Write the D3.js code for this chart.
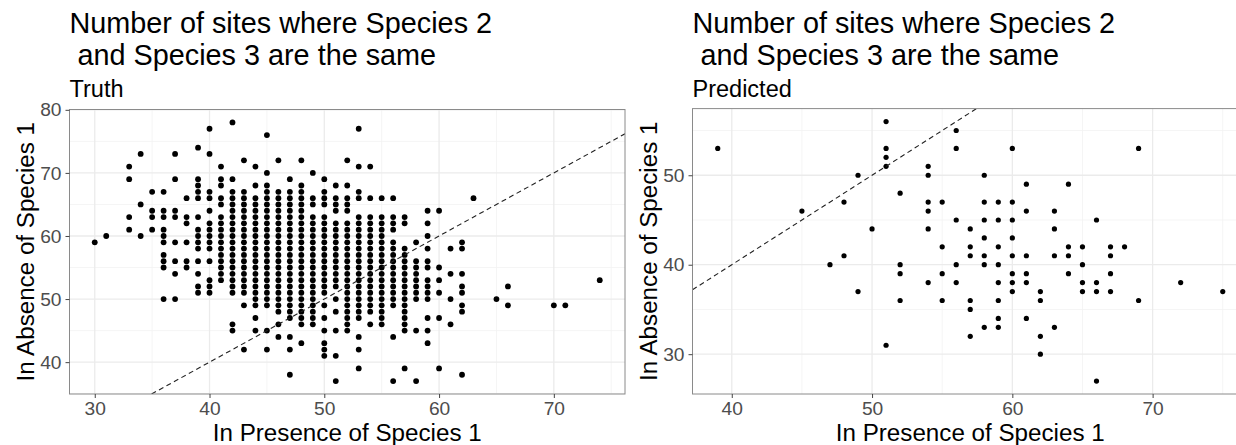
<!DOCTYPE html>
<html>
<head>
<meta charset="utf-8">
<script src="https://cdn.jsdelivr.net/npm/d3@7"></script>
<style>
  html, body { margin: 0; padding: 0; background: #fff; }
  svg { display: block; font-family: "Liberation Sans", Arial, Helvetica, sans-serif; }
  text.pre { white-space: pre; }
</style>
</head>
<body>
<svg id="chart" width="1236" height="445"></svg>
<script>
// Truth: for each x (in presence of species 1), the y values (in absence) observed
const truthX = [30, 31, 33, 34, 35, 36, 37, 38, 39, 40, 41, 42, 43, 44, 45, 46, 47, 48, 49, 50,
                51, 52, 53, 54, 55, 56, 57, 58, 59, 60, 61, 62, 63, 65, 66, 70, 71, 74];
const truthY = [
  [59],
  [60],
  [71, 69, 63, 61],
  [73, 65, 60],
  [67, 64, 63, 61],
  [67, 64, 63, 61, 60, 59, 57, 56, 55, 50],
  [73, 69, 64, 63, 59, 56, 54, 50],
  [66, 63, 62, 59, 56, 55],
  [74, 69, 68, 67, 66, 63, 61, 60, 59, 58, 56, 54, 52, 51],
  [77, 73, 67, 66, 64, 62, 61, 60, 59, 58, 56, 53, 52, 51],
  [71, 69, 68, 66, 65, 63, 62, 61, 60, 59, 58, 57, 56, 55, 54, 53],
  [78, 69, 67, 66, 65, 64, 63, 62, 61, 60, 59, 58, 57, 56, 55, 54, 53, 52, 51, 46, 45],
  [72, 67, 66, 65, 64, 63, 62, 61, 60, 59, 58, 57, 56, 55, 54, 53, 52, 51, 49, 42],
  [71, 68, 66, 65, 64, 63, 62, 61, 60, 59, 58, 57, 56, 55, 54, 53, 52, 51, 50, 49, 47, 45],
  [76, 70, 68, 67, 66, 65, 64, 63, 62, 61, 60, 59, 58, 57, 56, 55, 54, 53, 52, 51, 50, 49, 45, 42],
  [72, 67, 66, 65, 64, 63, 62, 61, 60, 59, 58, 57, 56, 55, 54, 53, 52, 51, 50, 49, 48, 46, 44],
  [69, 67, 66, 65, 64, 63, 62, 61, 60, 59, 58, 57, 56, 55, 54, 53, 52, 51, 50, 49, 48, 47, 44, 42, 38],
  [72, 68, 67, 66, 65, 64, 63, 62, 61, 60, 59, 58, 57, 56, 55, 54, 53, 52, 51, 50, 49, 48, 47, 46, 43],
  [70, 66, 65, 63, 62, 61, 60, 59, 58, 57, 56, 55, 54, 53, 52, 51, 50, 49, 48, 47, 46],
  [69, 67, 66, 65, 63, 62, 61, 60, 59, 58, 57, 56, 55, 54, 53, 52, 51, 49, 47, 45, 43, 42, 41],
  [68, 66, 65, 64, 62, 61, 60, 59, 58, 57, 56, 55, 54, 53, 52, 50, 48, 45, 41, 37],
  [72, 68, 66, 65, 64, 62, 61, 60, 59, 58, 57, 56, 55, 54, 53, 52, 51, 50, 49, 48, 47, 46, 45],
  [77, 71, 67, 66, 63, 62, 61, 60, 59, 58, 57, 56, 55, 54, 53, 52, 51, 50, 49, 48, 47, 44, 42, 39],
  [71, 66, 63, 62, 61, 60, 59, 58, 57, 56, 55, 54, 53, 52, 51, 50, 49, 48, 46],
  [66, 63, 62, 61, 60, 59, 58, 57, 56, 55, 54, 53, 52, 51, 50, 49, 48, 47, 46],
  [66, 63, 62, 61, 59, 58, 57, 56, 55, 54, 53, 52, 51, 50, 49, 44, 37],
  [63, 62, 58, 57, 56, 55, 54, 53, 52, 51, 50, 49, 48, 47, 46, 45, 39],
  [59, 56, 55, 54, 53, 52, 51, 50, 45, 37],
  [64, 62, 60, 58, 56, 55, 53, 52, 51, 50, 47, 45, 43],
  [64, 55, 53, 51, 47, 39],
  [58, 54, 50, 46],
  [59, 58, 54, 52, 51, 49, 48, 38],
  [66],
  [50],
  [52, 49],
  [49],
  [49],
  [53]
];

// Predicted: one point per site pair
const predX = [39, 45, 47, 48, 48, 49, 49, 50, 51, 51, 51, 51, 51, 52, 52, 52, 52,
               54, 54, 54, 54, 54, 54, 55, 55, 55, 55, 56, 56, 56, 56, 56,
               57, 57, 57, 57, 57, 57, 58, 58, 58, 58, 58, 58, 58,
               59, 59, 59, 59, 59, 59, 59, 59, 60, 60, 60, 60, 60, 60, 60, 60,
               61, 61, 61, 61, 61, 61, 62, 62, 62, 62, 63, 63, 63, 63,
               64, 64, 64, 64, 65, 65, 65, 65, 66, 66, 66, 66, 67, 67, 67, 67,
               68, 69, 69, 72, 75];
const predY = [53, 46, 40, 47, 41, 50, 37, 44, 56, 53, 52, 51, 31, 48, 40, 39, 36,
               51, 50, 47, 46, 44, 38, 47, 42, 39, 36, 55, 53, 45, 40, 38,
               44, 42, 41, 36, 35, 32, 50, 47, 45, 43, 41, 40, 33,
               47, 45, 42, 40, 38, 36, 34, 33, 53, 47, 45, 43, 41, 39, 38, 37,
               49, 46, 41, 39, 38, 34, 37, 36, 32, 30, 46, 44, 41, 33,
               49, 42, 41, 39, 42, 40, 38, 37, 45, 38, 37, 27, 42, 41, 39, 37,
               42, 53, 36, 38, 37];

const truthXTicks = [30, 40, 50, 60, 70];
const truthYTicks = [40, 50, 60, 70, 80];
const predXTicks = [40, 50, 60, 70];
const predYTicks = [30, 40, 50];

const titleLines = ["Number of sites where Species 2", " and Species 3 are the same"];
const xLabel = "In Presence of Species 1";
const yLabel = "In Absence of Species 1";

const truthPoints = truthX.flatMap((x, i) => truthY[i].map(y => ({ x, y })));
const predPoints = predX.map((x, i) => ({ x, y: predY[i] }));

const svg = d3.select("#chart");

function panel(cfg) {
  const { left, right, top, bottom, xDomain, yDomain, xTicks, yTicks, points, subtitle, r, id } = cfg;
  const x = d3.scaleLinear().domain(xDomain).range([left, right]);
  const y = d3.scaleLinear().domain(yDomain).range([bottom, top]);
  const g = svg.append("g");

  g.append("clipPath").attr("id", id)
    .append("rect").attr("x", left).attr("y", top)
    .attr("width", right - left).attr("height", bottom - top);

  const grid = g.append("g").attr("clip-path", `url(#${id})`);
  // minor grid lines halfway between major ticks
  const minorX = d3.range(xTicks[0] - 5, xDomain[1] + 5, 10).filter(v => v > xDomain[0] && v < xDomain[1]);
  const minorY = d3.range(yTicks[0] - 5, yDomain[1] + 5, 10).filter(v => v > yDomain[0] && v < yDomain[1]);
  grid.selectAll(".mx").data(minorX).join("line")
    .attr("x1", d => x(d)).attr("x2", d => x(d)).attr("y1", top).attr("y2", bottom)
    .attr("stroke", "#f2f2f2").attr("stroke-width", 0.8);
  grid.selectAll(".my").data(minorY).join("line")
    .attr("y1", d => y(d)).attr("y2", d => y(d)).attr("x1", left).attr("x2", right)
    .attr("stroke", "#f2f2f2").attr("stroke-width", 0.8);
  grid.selectAll(".gx").data(xTicks).join("line")
    .attr("x1", d => x(d)).attr("x2", d => x(d)).attr("y1", top).attr("y2", bottom)
    .attr("stroke", "#ebebeb").attr("stroke-width", 1.3);
  grid.selectAll(".gy").data(yTicks).join("line")
    .attr("y1", d => y(d)).attr("y2", d => y(d)).attr("x1", left).attr("x2", right)
    .attr("stroke", "#ebebeb").attr("stroke-width", 1.3);

  const marks = g.append("g").attr("clip-path", `url(#${id})`);
  marks.selectAll("circle").data(points).join("circle")
    .attr("cx", d => x(d.x)).attr("cy", d => y(d.y)).attr("r", r).attr("fill", "#000");

  // identity reference line y = x
  const lo = Math.max(xDomain[0], yDomain[0]);
  const hi = Math.min(xDomain[1], yDomain[1]);
  marks.append("line")
    .attr("x1", x(lo)).attr("y1", y(lo)).attr("x2", x(hi)).attr("y2", y(hi))
    .attr("stroke", "#222").attr("stroke-width", 1.1).attr("stroke-dasharray", "5,3.5");

  // panel border
  g.append("rect").attr("x", left).attr("y", top)
    .attr("width", right - left).attr("height", bottom - top)
    .attr("fill", "none").attr("stroke", "#8a8a8a").attr("stroke-width", 1);

  // axes
  const xAxis = g.append("g").attr("transform", `translate(0,${bottom})`)
    .call(d3.axisBottom(x).tickValues(xTicks).tickSize(4).tickPadding(3.5).tickFormat(d3.format("d")));
  const yAxis = g.append("g").attr("transform", `translate(${left},0)`)
    .call(d3.axisLeft(y).tickValues(yTicks).tickSize(4).tickPadding(4).tickFormat(d3.format("d")));
  [xAxis, yAxis].forEach(a => {
    a.select(".domain").remove();
    a.selectAll(".tick line").attr("stroke", "#444");
    a.selectAll(".tick text").attr("fill", "#4d4d4d").attr("font-size", 19.2)
      .attr("font-family", "Liberation Sans, Arial, sans-serif");
  });

  // two-line title, then the subtitle
  const title = g.append("text").attr("font-size", 28.8).attr("class", "pre");
  title.selectAll("tspan").data(titleLines).join("tspan")
    .attr("x", left).attr("y", (d, i) => 32.5 + i * 32.5)
    .text(d => d);
  g.append("text").attr("x", left).attr("y", 97).attr("font-size", 23.5)
    .text(subtitle);

  // axis labels
  g.append("text").attr("x", (left + right) / 2).attr("y", 441)
    .attr("text-anchor", "middle").attr("font-size", 24.2).text(xLabel);
  g.append("text")
    .attr("transform", `translate(${left - 35.5},${(top + bottom) / 2}) rotate(-90)`)
    .attr("text-anchor", "middle").attr("font-size", 24.2).text(yLabel);
}

panel({
  id: "clipTruth", left: 69.5, right: 625, top: 109.5, bottom: 394,
  xDomain: [27.8, 76.2], yDomain: [34.95, 80.05],
  xTicks: truthXTicks, yTicks: truthYTicks, points: truthPoints,
  subtitle: "Truth", r: 2.9
});
panel({
  id: "clipPred", left: 692.5, right: 1248, top: 108.6, bottom: 394,
  xDomain: [37.2, 76.8], yDomain: [25.55, 57.45],
  xTicks: predXTicks, yTicks: predYTicks, points: predPoints,
  subtitle: "Predicted", r: 2.6
});
</script>
</body>
</html>
